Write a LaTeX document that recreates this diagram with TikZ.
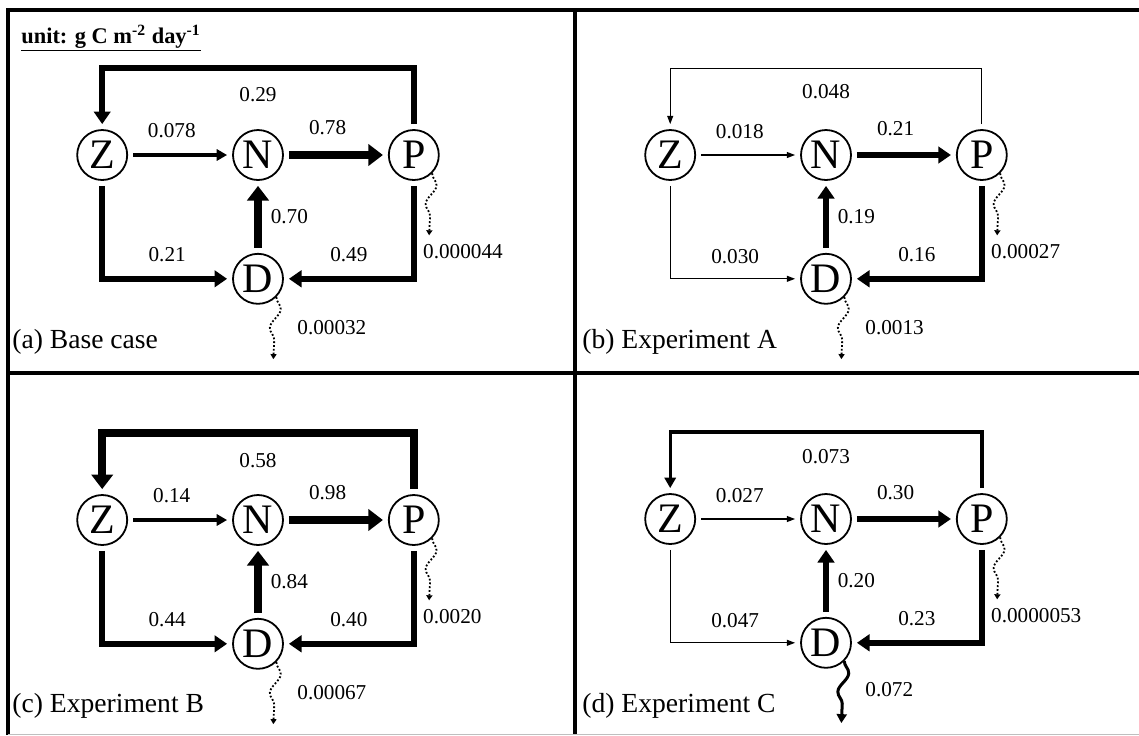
\documentclass[tikz,border=0pt]{standalone}
\usepackage{fontspec}
\setmainfont{Liberation Serif}
\usepackage{tikz}
\usetikzlibrary{positioning, arrows.meta, decorations.pathmorphing}
\tikzset{
  pool/.style={circle, draw, line width=0.9pt, minimum size=25pt, inner sep=0pt,
               font=\fontsize{21}{21}\selectfont},
  lab/.style={font=\fontsize{10.6}{12}\selectfont, inner sep=1pt},
  ttl/.style={font=\fontsize{13.8}{15}\selectfont, inner sep=0pt},
  unit/.style={font=\fontsize{11.2}{13}\selectfont\bfseries, inner sep=0pt},
  frame/.style={line width=2pt},
  flow/.style={line width=#1, -{Triangle[length=3.5pt 1, width=1.5pt 2.4]},
               shorten >=2.5pt, shorten <=2.5pt},
  fthin/.style={flow=0.6pt},
  fmid/.style={flow=1.7pt},
  fthick/.style={flow=2.8pt},
  fheavy/.style={flow=3.8pt},
  sink/.style={densely dotted, line width=0.9pt, -{Triangle[length=2.5pt, width=3pt]},
               decorate, decoration={snake, amplitude=2.5pt, segment length=19pt, post length=3pt}},
  sinkbig/.style={line width=1.5pt, -{Triangle[length=4.5pt, width=5pt]},
                  decorate, decoration={snake, amplitude=2.5pt, segment length=19pt, post length=4pt}},
}
\begin{document}
\begin{tikzpicture}[x=0.5pt, y=-0.5pt, node distance=36pt and 52pt]
  \useasboundingbox (0,0) rectangle (1139,735);
  % panel frame
  \draw[frame] (8,735) -- (8,10) -- (1139,10);
  \draw[frame] (575,10) -- (575,735);
  \draw[frame] (8,373) -- (1139,373);
  \draw[black!25] (8,734) -- (1139,734);

  \node[unit, anchor=base west] (unit) at (21,43)
    {\underline{unit: g C m\textsuperscript{-2} day\textsuperscript{-1}}};

  % (a) base case
  \node[pool] (Na) at (258,155) {N};
  \node[pool, left=of Na] (Za) {Z};
  \node[pool, right=of Na] (Pa) {P};
  \node[pool, below=of Na] (Da) {D};
  \draw[fthick] (Pa.north) -- ++(0,-61) -| node[lab, pos=0.25, below=7pt]{0.29} (Za.north);
  \draw[fmid] (Za) -- node[lab, pos=0.42, above=7pt]{0.078} (Na);
  \draw[fheavy] (Na) -- node[lab, pos=0.42, above=7pt]{0.78} (Pa);
  \draw[fheavy] (Da) -- node[lab, right=3.5pt]{0.70} (Na);
  \draw[fthick] (Za.south) |- node[lab, pos=0.75, above=6pt]{0.21} (Da.west);
  \draw[fthick] (Pa.south) |- node[lab, pos=0.75, above=6pt]{0.49} (Da.east);
  \draw[sink] (Pa.south east) -- ++(-3,62);
  \node[lab, anchor=west] (sPa) at ([shift={(7,97)}]Pa.center) {0.000044};
  \draw[sink] (Da.south east) -- ++(-3,62);
  \node[lab, anchor=west] (sDa) at ([shift={(37,49)}]Da.center) {0.00032};
  \node[ttl, anchor=base west] (ta) at (12,348) {(a) Base case};

  % (b) experiment A
  \begin{scope}[shift={(568,0)}]
  \node[pool] (Nb) at (258,155) {N};
  \node[pool, left=of Nb] (Zb) {Z};
  \node[pool, right=of Nb] (Pb) {P};
  \node[pool, below=of Nb] (Db) {D};
  \draw[fthin] (Pb.north) -- ++(0,-61) -| node[lab, pos=0.25, below=7pt]{0.048} (Zb.north);
  \draw[fthin] (Zb) -- node[lab, pos=0.42, above=7pt]{0.018} (Nb);
  \draw[fthick] (Nb) -- node[lab, pos=0.42, above=7pt]{0.21} (Pb);
  \draw[fthick] (Db) -- node[lab, right=3.5pt]{0.19} (Nb);
  \draw[fthin] (Zb.south) |- node[lab, pos=0.75, above=6pt]{0.030} (Db.west);
  \draw[fthick] (Pb.south) |- node[lab, pos=0.75, above=6pt]{0.16} (Db.east);
  \draw[sink] (Pb.south east) -- ++(-3,62);
  \node[lab, anchor=west] (sPb) at ([shift={(7,97)}]Pb.center) {0.00027};
  \draw[sink] (Db.south east) -- ++(-3,62);
  \node[lab, anchor=west] (sDb) at ([shift={(37,49)}]Db.center) {0.0013};
  \node[ttl, anchor=base west] (tb) at (14,348) {(b) Experiment A};
  \end{scope}

  % (c) experiment B
  \begin{scope}[shift={(0,365)}]
  \node[pool] (Nc) at (258,155) {N};
  \node[pool, left=of Nc] (Zc) {Z};
  \node[pool, right=of Nc] (Pc) {P};
  \node[pool, below=of Nc] (Dc) {D};
  \draw[fheavy] (Pc.north) -- ++(0,-61) -| node[lab, pos=0.25, below=7pt]{0.58} (Zc.north);
  \draw[fmid] (Zc) -- node[lab, pos=0.42, above=7pt]{0.14} (Nc);
  \draw[fheavy] (Nc) -- node[lab, pos=0.42, above=7pt]{0.98} (Pc);
  \draw[fheavy] (Dc) -- node[lab, right=3.5pt]{0.84} (Nc);
  \draw[fthick] (Zc.south) |- node[lab, pos=0.75, above=6pt]{0.44} (Dc.west);
  \draw[fthick] (Pc.south) |- node[lab, pos=0.75, above=6pt]{0.40} (Dc.east);
  \draw[sink] (Pc.south east) -- ++(-3,62);
  \node[lab, anchor=west] (sPc) at ([shift={(7,97)}]Pc.center) {0.0020};
  \draw[sink] (Dc.south east) -- ++(-3,62);
  \node[lab, anchor=west] (sDc) at ([shift={(37,49)}]Dc.center) {0.00067};
  \node[ttl, anchor=base west] (tc) at (12,347) {(c) Experiment B};
  \end{scope}

  % (d) experiment C
  \begin{scope}[shift={(568,364)}]
  \node[pool] (Nd) at (258,155) {N};
  \node[pool, left=of Nd] (Zd) {Z};
  \node[pool, right=of Nd] (Pd) {P};
  \node[pool, below=of Nd] (Dd) {D};
  \draw[fmid] (Pd.north) -- ++(0,-61) -| node[lab, pos=0.25, below=7pt]{0.073} (Zd.north);
  \draw[fthin] (Zd) -- node[lab, pos=0.42, above=7pt]{0.027} (Nd);
  \draw[fthick] (Nd) -- node[lab, pos=0.42, above=7pt]{0.30} (Pd);
  \draw[fthick] (Dd) -- node[lab, right=3.5pt]{0.20} (Nd);
  \draw[fthin] (Zd.south) |- node[lab, pos=0.75, above=6pt]{0.047} (Dd.west);
  \draw[fthick] (Pd.south) |- node[lab, pos=0.75, above=6pt]{0.23} (Dd.east);
  \draw[sink] (Pd.south east) -- ++(-3,62);
  \node[lab, anchor=west] (sPd) at ([shift={(7,97)}]Pd.center) {0.0000053};
  \draw[sinkbig] (Dd.south east) -- ++(-3,62);
  \node[lab, anchor=west] (sDd) at ([shift={(37,47)}]Dd.center) {0.072};
  \node[ttl, anchor=base west] (td) at (14,348) {(d) Experiment C};
  \end{scope}
\end{tikzpicture}
\end{document}
